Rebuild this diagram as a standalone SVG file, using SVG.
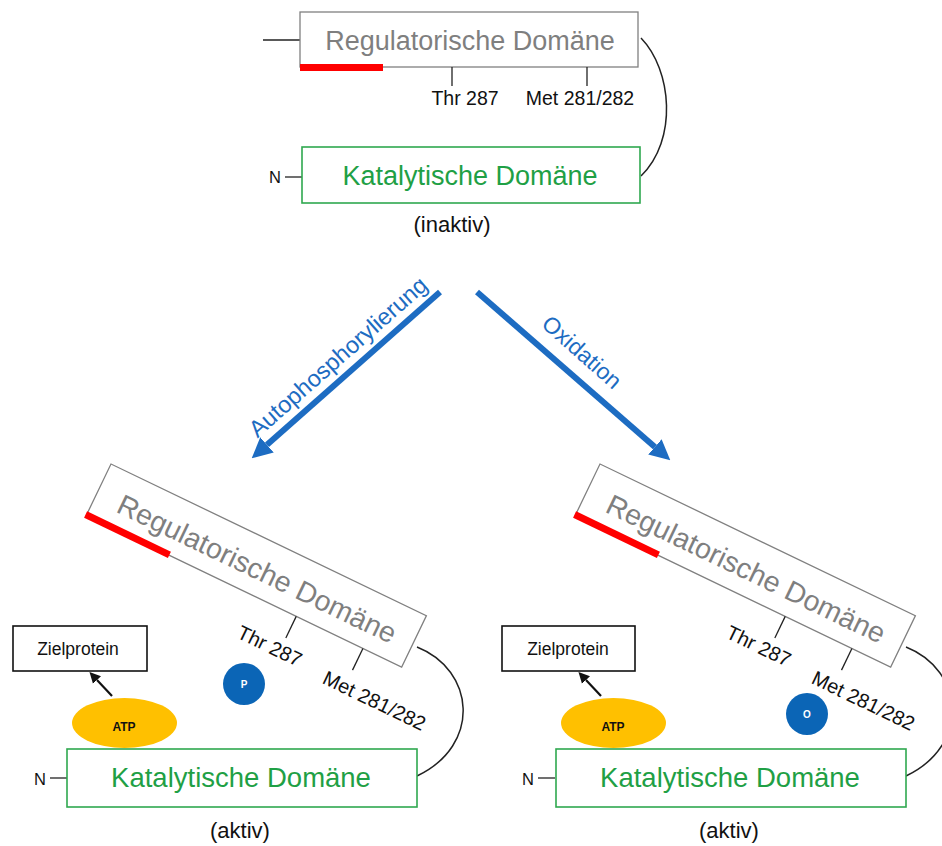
<svg xmlns="http://www.w3.org/2000/svg" width="942" height="846" viewBox="0 0 942 846">
<style>
  .reg{fill:#fff;stroke:#808080;stroke-width:1.3}
  .cat{fill:#fff;stroke:#2fa84f;stroke-width:1.6}
  .regt{font-family:"Liberation Sans",Arial,sans-serif;fill:#7f7f7f;text-anchor:middle}
  .catt{font-family:"Liberation Sans",Arial,sans-serif;fill:#1fa045;text-anchor:middle}
  .lbl{font-family:"Liberation Sans",Arial,sans-serif;fill:#111;text-anchor:middle}
  .tick{stroke:#222;stroke-width:1.3;fill:none}
  .red{fill:#ff0000}
  .link{stroke:#222;stroke-width:1.5;fill:none}
  .blue{stroke:#1d6cc2;stroke-width:6;fill:none;marker-end:url(#bh)}
  .blk{stroke:#111;stroke-width:2.2;fill:none;marker-end:url(#kh)}
  .btxt{font-family:"Liberation Sans",Arial,sans-serif;fill:#1d6cc2;text-anchor:middle}
  .atp{fill:#ffc000}
  .dot{fill:#0b65b6}
  .wt{font-family:"Liberation Sans",Arial,sans-serif;fill:#fff;font-weight:bold;font-size:10px;text-anchor:middle}
  .zp{fill:#fff;stroke:#111;stroke-width:1.6}
</style>
<defs>
  <marker id="bh" viewBox="0 0 10 10" refX="0" refY="5" markerUnits="strokeWidth" markerWidth="3.4" markerHeight="3.6" orient="auto">
    <path d="M0,0 L10,5 L0,10 z" fill="#1d6cc2"/>
  </marker>
  <marker id="kh" viewBox="0 0 10 10" refX="0" refY="5" markerUnits="userSpaceOnUse" markerWidth="11" markerHeight="12" orient="auto">
    <path d="M0,0 L10,5 L0,10 z" fill="#111"/>
  </marker>
</defs>

<g id="connectors">
  <line class="blue" x1="440" y1="292" x2="267" y2="444.8"/>
  <line class="blue" x1="477" y1="292" x2="654.9" y2="446.9"/>
  <path class="link" d="M641,38 C672,70 678,140 641,176"/>
  <path class="link" d="M417,647 C475,670 482,745 417,776"/>
  <path class="link" d="M906,647 C964,670 971,745 906,776"/>
  <line class="blk" x1="112" y1="696" x2="97" y2="680"/>
  <line class="blk" x1="601" y1="696" x2="586" y2="680"/>
  <line class="tick" x1="263" y1="40" x2="300" y2="40"/>
  <line class="tick" x1="285" y1="177" x2="302" y2="177"/>
  <line class="tick" x1="50" y1="778" x2="67" y2="778"/>
  <line class="tick" x1="538" y1="778" x2="555" y2="778"/>
</g>

<g id="labels-arrows">
  <text class="btxt" transform="translate(338,357) rotate(-41.4)" y="8" font-size="23.5">Autophosphorylierung</text>
  <text class="btxt" transform="translate(582,352) rotate(41.5)" y="8" font-size="23">Oxidation</text>
</g>

<!-- Top (inaktiv) -->
<g id="reg-top">
  <rect class="reg" x="300" y="12" width="338" height="55"/>
  <rect class="red" x="300" y="64" width="83" height="7"/>
  <text class="regt" x="470" y="50" font-size="27">Regulatorische Domäne</text>
  <line class="tick" x1="452" y1="67" x2="452" y2="86"/>
  <line class="tick" x1="587" y1="67" x2="587" y2="86"/>
  <text class="lbl" x="465" y="105" font-size="19.5">Thr 287</text>
  <text class="lbl" x="580" y="105" font-size="19.5">Met 281/282</text>
</g>
<g id="cat-top">
  <rect class="cat" x="302" y="147" width="338" height="56"/>
  <text class="catt" x="470" y="185" font-size="27">Katalytische Domäne</text>
  <text class="lbl" x="275" y="183" font-size="16.5">N</text>
  <text class="lbl" x="452" y="232" font-size="22">(inaktiv)</text>
</g>

<!-- Bottom left -->
<g id="left-active">
  <g transform="translate(111,464) rotate(25.7)">
    <rect class="reg" x="0" y="0" width="350" height="57"/>
    <rect class="red" x="-1" y="53" width="93" height="7"/>
    <text class="regt" x="177" y="41" font-size="28.5">Regulatorische Domäne</text>
    <line class="tick" x1="233" y1="57" x2="233" y2="81"/>
    <line class="tick" x1="307" y1="57" x2="307" y2="81"/>
    <text class="lbl" x="222" y="102" font-size="20">Thr 287</text>
    <text class="lbl" x="340" y="106" font-size="20">Met 281/282</text>
  </g>
  <ellipse class="atp" cx="124.5" cy="723" rx="52.5" ry="25"/>
  <text x="124" y="731" font-family="Liberation Sans, Arial, sans-serif" font-weight="bold" font-size="12" text-anchor="middle" fill="#111">ATP</text>
  <rect class="cat" x="67" y="749" width="350" height="58"/>
  <text class="catt" x="241" y="787" font-size="27.5">Katalytische Domäne</text>
  <text class="lbl" x="40" y="785" font-size="16.5">N</text>
  <rect class="zp" x="13" y="626" width="134" height="45"/>
  <text class="lbl" x="78" y="655" font-size="17.5">Zielprotein</text>
  <circle class="dot" cx="244" cy="684" r="21"/>
  <text class="wt" x="244" y="688">P</text>
  <text class="lbl" x="240" y="838" font-size="22">(aktiv)</text>
</g>

<!-- Bottom right -->
<g id="right-active">
  <g transform="translate(600,464) rotate(25.7)">
    <rect class="reg" x="0" y="0" width="350" height="57"/>
    <rect class="red" x="-1" y="53" width="93" height="7"/>
    <text class="regt" x="177" y="41" font-size="28.5">Regulatorische Domäne</text>
    <line class="tick" x1="233" y1="57" x2="233" y2="81"/>
    <line class="tick" x1="307" y1="57" x2="307" y2="81"/>
    <text class="lbl" x="222" y="102" font-size="20">Thr 287</text>
    <text class="lbl" x="340" y="106" font-size="20">Met 281/282</text>
  </g>
  <ellipse class="atp" cx="613.5" cy="723" rx="52.5" ry="25"/>
  <text x="613" y="731" font-family="Liberation Sans, Arial, sans-serif" font-weight="bold" font-size="12" text-anchor="middle" fill="#111">ATP</text>
  <rect class="cat" x="556" y="749" width="350" height="58"/>
  <text class="catt" x="730" y="787" font-size="27.5">Katalytische Domäne</text>
  <text class="lbl" x="528" y="785" font-size="16.5">N</text>
  <rect class="zp" x="502" y="626" width="133" height="45"/>
  <text class="lbl" x="568" y="655" font-size="17.5">Zielprotein</text>
  <circle class="dot" cx="807" cy="714" r="21"/>
  <text class="wt" x="807" y="718">O</text>
  <text class="lbl" x="729" y="838" font-size="22">(aktiv)</text>
</g>
</svg>
